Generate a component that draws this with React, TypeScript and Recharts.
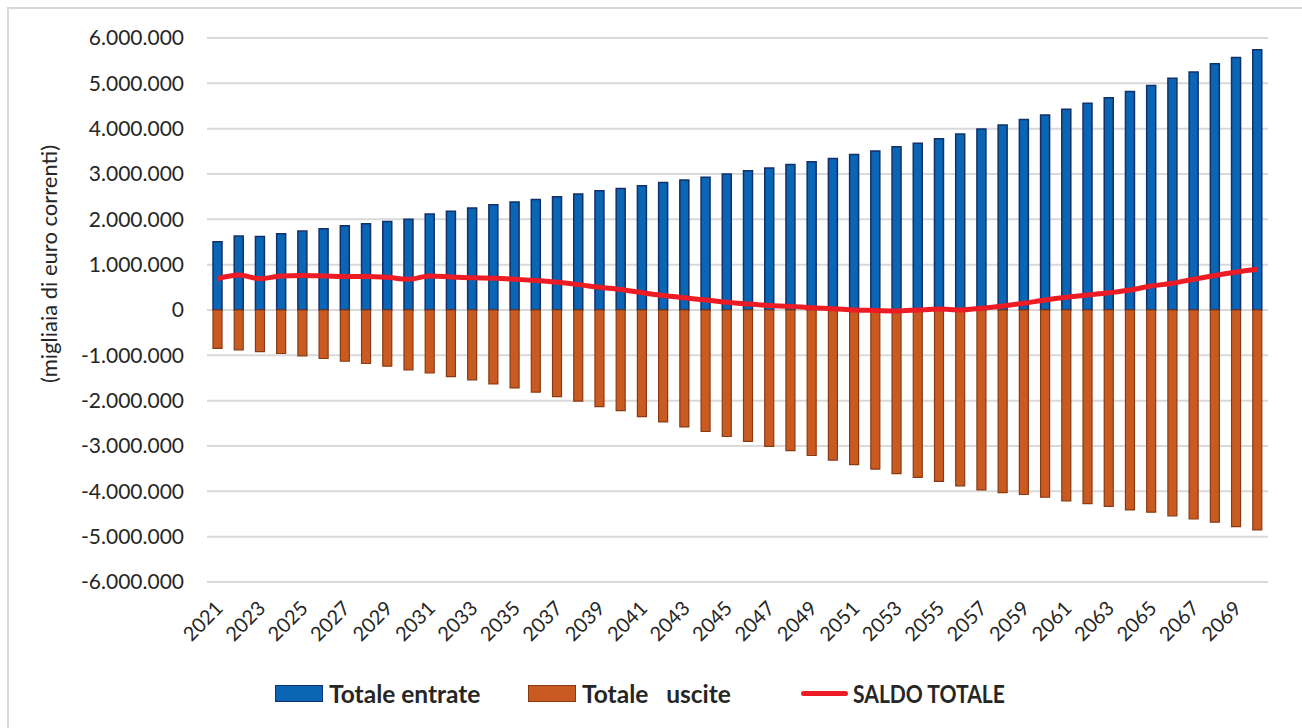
import React from 'react';
import { ComposedChart, Bar, Line, XAxis, YAxis, CartesianGrid } from 'recharts';

const years = [
  2021, 2022, 2023, 2024, 2025, 2026, 2027, 2028, 2029, 2030,
  2031, 2032, 2033, 2034, 2035, 2036, 2037, 2038, 2039, 2040,
  2041, 2042, 2043, 2044, 2045, 2046, 2047, 2048, 2049, 2050,
  2051, 2052, 2053, 2054, 2055, 2056, 2057, 2058, 2059, 2060,
  2061, 2062, 2063, 2064, 2065, 2066, 2067, 2068, 2069, 2070,
];

// migliaia di euro correnti
const entrate = [
  1507000, 1630000, 1620000, 1680000, 1740000, 1790000, 1860000, 1900000, 1950000, 2000000,
  2120000, 2180000, 2250000, 2320000, 2380000, 2440000, 2500000, 2560000, 2630000, 2680000,
  2740000, 2810000, 2870000, 2930000, 3000000, 3070000, 3130000, 3210000, 3270000, 3340000,
  3430000, 3510000, 3600000, 3680000, 3780000, 3880000, 3990000, 4080000, 4200000, 4300000,
  4430000, 4560000, 4680000, 4820000, 4950000, 5110000, 5250000, 5430000, 5570000, 5740000,
];

const uscite = [
  -845000, -880000, -920000, -960000, -1010000, -1070000, -1130000, -1180000, -1240000, -1320000,
  -1390000, -1470000, -1540000, -1630000, -1720000, -1810000, -1910000, -2010000, -2130000, -2220000,
  -2350000, -2470000, -2580000, -2680000, -2790000, -2900000, -3010000, -3100000, -3210000, -3310000,
  -3410000, -3510000, -3610000, -3690000, -3780000, -3880000, -3970000, -4030000, -4070000, -4130000,
  -4210000, -4270000, -4330000, -4410000, -4460000, -4540000, -4610000, -4680000, -4780000, -4850000,
];

const saldo = [
  690000, 770000, 690000, 750000, 760000, 750000, 740000, 740000, 720000, 680000,
  750000, 730000, 710000, 700000, 680000, 650000, 610000, 560000, 500000, 450000,
  380000, 320000, 270000, 220000, 170000, 130000, 100000, 80000, 50000, 30000,
  0, -10000, -20000, 0, 20000, 0, 40000, 90000, 150000, 220000,
  280000, 330000, 380000, 440000, 530000, 590000, 680000, 760000, 840000, 900000,
];

const yTicks = [
  -6000000, -5000000, -4000000, -3000000, -2000000, -1000000, 0,
  1000000, 2000000, 3000000, 4000000, 5000000, 6000000,
];

const data = years.map((y, i) => ({
  year: String(y),
  entrate: entrate[i],
  uscite: uscite[i],
  saldo: saldo[i],
}));

const FONT = 'Lato, "Open Sans", sans-serif';
const TEXT = '#262626';

const fmt = (v: number) => {
  const s = String(Math.abs(v)).replace(/\B(?=(\d{3})+(?!\d))/g, '.');
  return v < 0 ? '-' + s : s;
};

const YearTick = (props: any) => {
  const { x, payload } = props;
  const tx = x + 1;
  const ty = 604;
  return (
    <text
      x={tx}
      y={ty}
      transform={`rotate(-45, ${tx}, ${ty})`}
      textAnchor="end"
      dominantBaseline="central"
      fontFamily={FONT}
      fontSize={20}
      fill={TEXT}
    >
      {payload.value}
    </text>
  );
};

const legendItems = [
  { label: 'Totale entrate', kind: 'bar', fill: '#0a65b4', stroke: '#12306a', left: 275, squeeze: 1 },
  { label: 'Totale   uscite', kind: 'bar', fill: '#c95b22', stroke: '#8a3a12', left: 528, squeeze: 1 },
  { label: 'SALDO TOTALE', kind: 'line', fill: '#ed1c24', stroke: '#ed1c24', left: 801, squeeze: 0.86 },
];

const App: React.FC = () => {
  return (
    <div
      style={{
        position: 'absolute',
        left: 0,
        top: 0,
        width: 1302,
        height: 728,
        overflow: 'hidden',
        background: '#fff',
      }}
    >
      <div
        style={{
          position: 'absolute',
          left: 7,
          top: 7,
          width: 1400,
          height: 800,
          borderLeft: '2px solid #d9d9d9',
          borderTop: '2px solid #d9d9d9',
        }}
      />
      <div style={{ position: 'absolute', left: 0, top: 0 }}>
        <ComposedChart
          width={1302}
          height={728}
          data={data}
          stackOffset="sign"
          barCategoryGap={0}
          margin={{ top: 38, right: 34, left: 0, bottom: 0 }}
        >
          <CartesianGrid vertical={false} stroke="#d9d9d9" strokeWidth={2} />
          <XAxis
            dataKey="year"
            interval={1}
            axisLine={false}
            tickLine={false}
            height={146}
            tick={<YearTick />}
          />
          <YAxis
            domain={[-6000000, 6000000]}
            ticks={yTicks}
            width={207}
            axisLine={false}
            tickLine={false}
            tickSize={0}
            tickMargin={23}
            tickFormatter={fmt}
            tick={{ fontFamily: FONT, fontSize: 21, fill: TEXT }}
          />
          <Bar
            dataKey="entrate"
            stackId="a"
            barSize={9}
            fill="#0a65b4"
            stroke="#12306a"
            strokeWidth={1.5}
            isAnimationActive={false}
          />
          <Bar
            dataKey="uscite"
            stackId="a"
            barSize={9}
            fill="#c95b22"
            stroke="#8a3a12"
            strokeWidth={1.2}
            isAnimationActive={false}
          />
          <Line
            dataKey="saldo"
            type="monotone"
            stroke="#ed1c24"
            strokeWidth={5}
            dot={false}
            isAnimationActive={false}
          />
        </ComposedChart>
      </div>
      <div
        style={{
          position: 'absolute',
          left: 48,
          top: 264,
          transform: 'translate(-50%, -50%) rotate(-90deg)',
          whiteSpace: 'nowrap',
          fontFamily: FONT,
          fontSize: 22,
          color: TEXT,
          transformOrigin: 'center',
        }}
      >
        (migliaia di euro correnti)
      </div>
      {legendItems.map((it) => (
        <div
          key={it.label}
          style={{
            position: 'absolute',
            left: it.left,
            top: 678,
            height: 30,
            display: 'flex',
            alignItems: 'center',
            fontFamily: FONT,
            fontWeight: 700,
            fontSize: 24.5,
            color: TEXT,
            whiteSpace: 'pre',
          }}
        >
          {it.kind === 'bar' ? (
            <span
              style={{
                display: 'inline-block',
                width: 46,
                height: 15,
                background: it.fill,
                border: `1px solid ${it.stroke}`,
                marginRight: 6,
              }}
            />
          ) : (
            <span
              style={{
                display: 'inline-block',
                width: 47,
                height: 5,
                borderRadius: 3,
                background: it.fill,
                marginRight: 5,
              }}
            />
          )}
          <span
            style={{
              display: 'inline-block',
              transform: `scaleX(${it.squeeze})`,
              transformOrigin: 'left center',
            }}
          >
            {it.label}
          </span>
        </div>
      ))}
    </div>
  );
};

export default App;
